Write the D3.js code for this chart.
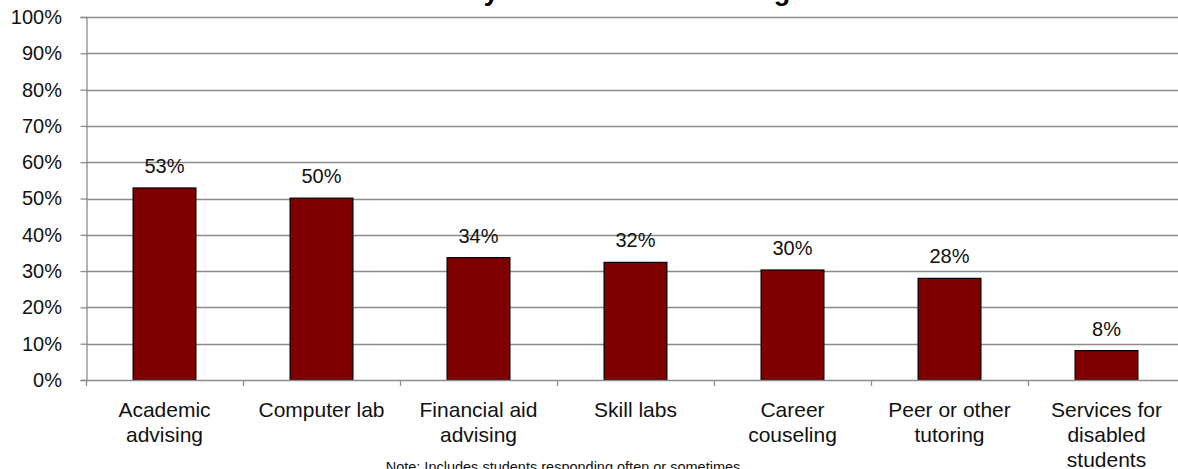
<!DOCTYPE html>
<html>
<head>
<meta charset="utf-8">
<script src="https://cdn.jsdelivr.net/npm/d3@7"></script>
<style>
  html, body { margin: 0; padding: 0; background: #fff; }
  svg { display: block; font-family: Arial, "Liberation Sans", sans-serif; }
</style>
</head>
<body>
<svg id="chart" width="1178" height="469"></svg>
<script>
const titleText = "Most Commonly Used Services Among Students";
const categories = [
  ["Academic", "advising"],
  ["Computer lab"],
  ["Financial aid", "advising"],
  ["Skill labs"],
  ["Career", "couseling"],
  ["Peer or other", "tutoring"],
  ["Services for", "disabled", "students"]
];
const values = [0.529, 0.501, 0.337, 0.324, 0.303, 0.280, 0.081];
const yTicks = [0, 0.1, 0.2, 0.3, 0.4, 0.5, 0.6, 0.7, 0.8, 0.9, 1.0];
const noteText = "Note: Includes students responding often or sometimes";

(function () {
const svg = d3.select("#chart");
const mLeft = 86, mRight = 1185, mTop = 17, mBottom = 380;

const x = d3.scaleBand()
  .domain(d3.range(categories.length))
  .range([mLeft, mRight])
  .paddingInner(0.6)
  .paddingOuter(0.3);
const step = x.step();

const y = d3.scaleLinear().domain([0, 1]).range([mBottom, mTop]);

// title (mostly cropped off the top)
svg.append("text")
  .attr("x", 601).attr("y", 0)
  .attr("text-anchor", "middle")
  .attr("font-weight", "bold")
  .attr("font-size", 27)
  .attr("fill", "#000")
  .text(titleText);

// gridlines
svg.append("g")
  .selectAll("line")
  .data(yTicks.slice(1))
  .join("line")
  .attr("x1", mLeft).attr("x2", mRight)
  .attr("y1", d => Math.round(y(d)) + 0.5)
  .attr("y2", d => Math.round(y(d)) + 0.5)
  .attr("stroke", "#8c8c8c")
  .attr("stroke-width", 1.3);

// y axis
const yAxis = d3.axisLeft(y)
  .tickValues(yTicks)
  .tickFormat(d3.format(".0%"))
  .tickSize(6)
  .tickPadding(18.5);
const gy = svg.append("g")
  .attr("transform", `translate(${mLeft + 0.5},0)`)
  .call(yAxis);
gy.select(".domain").attr("stroke", "#8c8c8c").attr("stroke-width", 1.3);
gy.selectAll(".tick line").attr("stroke", "#8c8c8c").attr("stroke-width", 1.3);
gy.selectAll(".tick text")
  .attr("font-size", 20)
  .attr("font-family", "Arial, 'Liberation Sans', sans-serif")
  .attr("fill", "#111");

// bars
svg.append("g")
  .selectAll("rect")
  .data(values)
  .join("rect")
  .attr("x", (d, i) => x(i))
  .attr("y", d => y(d))
  .attr("width", x.bandwidth())
  .attr("height", d => y(0) - y(d))
  .attr("fill", "#800000")
  .attr("stroke", "#000")
  .attr("stroke-width", 1.2);

// x axis line and category boundary ticks
const xTickPositions = d3.range(categories.length + 1).map(i => mLeft + i * step);
svg.append("line")
  .attr("x1", mLeft).attr("x2", mRight)
  .attr("y1", mBottom + 0.5).attr("y2", mBottom + 0.5)
  .attr("stroke", "#8c8c8c").attr("stroke-width", 1.3);
svg.append("g")
  .selectAll("line")
  .data(xTickPositions)
  .join("line")
  .attr("x1", d => d + 0.5).attr("x2", d => d + 0.5)
  .attr("y1", mBottom).attr("y2", mBottom + 6)
  .attr("stroke", "#8c8c8c").attr("stroke-width", 1.3);

// value labels
svg.append("g")
  .selectAll("text")
  .data(values)
  .join("text")
  .attr("x", (d, i) => x(i) + x.bandwidth() / 2)
  .attr("y", d => y(d) - 15)
  .attr("text-anchor", "middle")
  .attr("font-size", 20)
  .attr("fill", "#111")
  .text(d => Math.round(d * 100) + "%");

// category labels
const cat = svg.append("g")
  .selectAll("text")
  .data(categories)
  .join("text")
  .attr("x", (d, i) => x(i) + x.bandwidth() / 2)
  .attr("y", 417)
  .attr("text-anchor", "middle")
  .attr("font-size", 21)
  .attr("fill", "#111");
cat.selectAll("tspan")
  .data(d => d)
  .join("tspan")
  .attr("x", function () { return d3.select(this.parentNode).attr("x"); })
  .attr("dy", (d, i) => i === 0 ? 0 : 25)
  .text(d => d);

// note
svg.append("text")
  .attr("x", 563).attr("y", 472)
  .attr("text-anchor", "middle")
  .attr("font-size", 14.5)
  .attr("fill", "#111")
  .text(noteText);
})();
</script>
</body>
</html>
